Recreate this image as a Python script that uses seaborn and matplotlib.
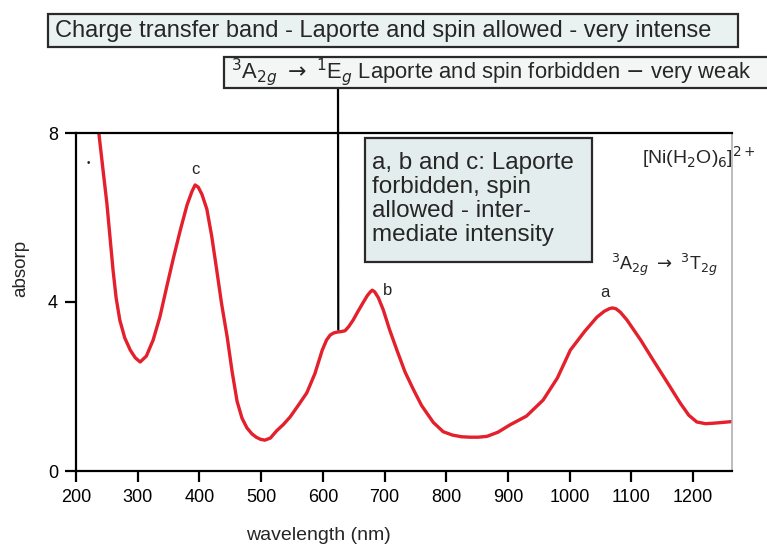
import matplotlib
matplotlib.use("Agg")
import matplotlib.pyplot as plt
import seaborn as sns
import pandas as pd
from matplotlib.patches import Rectangle

wavelength = [228, 237, 244, 250, 255, 260, 265, 271, 279, 288, 296, 304, 314, 325, 336, 347,
              358, 369, 380, 388, 393, 398, 404, 412, 420, 428, 436, 445, 453, 461, 469,
              477, 485, 492, 499, 506, 515, 525, 536, 547, 560, 574, 587, 599, 606, 612,
              618, 624, 630, 636, 642, 649, 657, 665, 672, 677, 680, 684, 690, 698, 708,
              720, 733, 746, 760, 779, 795, 810, 825, 839, 852, 866, 884, 903, 930, 957,
              980, 1001, 1024, 1044, 1056, 1064, 1069, 1075, 1082, 1093, 1115, 1135, 1158,
              1179, 1193, 1206, 1220, 1232, 1248, 1263]
absorbance = [8.6, 8.0, 7.1, 6.34, 5.55, 4.76, 4.10, 3.57, 3.15, 2.86, 2.68, 2.58, 2.72, 3.10,
              3.65, 4.36, 5.05, 5.70, 6.30, 6.62, 6.77, 6.72, 6.55, 6.20, 5.55, 4.76, 3.95,
              3.17, 2.35, 1.65, 1.25, 1.02, 0.88, 0.80, 0.75, 0.73, 0.78, 0.95, 1.10, 1.28,
              1.55, 1.85, 2.30, 2.86, 3.10, 3.22, 3.27, 3.29, 3.30, 3.32, 3.42, 3.57, 3.78,
              3.98, 4.15, 4.24, 4.28, 4.24, 4.10, 3.81, 3.35, 2.86, 2.35, 1.95, 1.55, 1.15,
              0.93, 0.85, 0.81, 0.80, 0.80, 0.82, 0.92, 1.09, 1.30, 1.68, 2.20, 2.86, 3.30,
              3.64, 3.78, 3.84, 3.86, 3.84, 3.76, 3.57, 3.10, 2.63, 2.10, 1.61, 1.32, 1.16,
              1.12, 1.13, 1.15, 1.17]

xticks = [200, 300, 400, 500, 600, 700, 800, 900, 1000, 1100, 1200]
yticks = [0, 4, 8]

df = pd.DataFrame({"wavelength": wavelength, "absorbance": absorbance})

sns.set_style("white")
plt.rcParams['font.family'] = ['Liberation Sans', 'DejaVu Sans']

W, H = 767, 547
fig = plt.figure(figsize=(W / 100, H / 100), dpi=100)
ax = fig.add_axes([76 / W, 1 - 471 / H, (732 - 76) / W, (471 - 133) / H])

sns.lineplot(data=df, x="wavelength", y="absorbance", ax=ax, color="#e3202c", lw=2.4)

ax.set_xlim(200, 1263)
ax.set_ylim(0, 8)
ax.set_xticks(xticks)
ax.set_yticks(yticks)
ax.tick_params(axis="both", direction="out", length=8, width=1.6, labelsize=13,
               left=True, bottom=True, colors="black", pad=5)
for s in ["left", "bottom", "top"]:
    ax.spines[s].set_color("black")
    ax.spines[s].set_linewidth(1.6)
ax.spines["right"].set_color("#b0b0b0")
ax.spines["right"].set_linewidth(1.2)
ax.set_xlabel("wavelength (nm)", fontsize=14)
ax.set_ylabel("absorp", fontsize=13.5)
ax.xaxis.set_label_coords(0.37, -0.165)
ax.yaxis.set_label_coords(-0.072, 0.6)

def fx(px):
    return px / W

def fy(py):
    return 1 - py / H

def box(x0, y0, x1, y1, fc):
    r = Rectangle((fx(x0), fy(y1)), fx(x1) - fx(x0), fy(y0) - fy(y1),
                  transform=fig.transFigure, facecolor=fc, edgecolor="#2a2a2a",
                  lw=1.6, zorder=3, clip_on=False)
    fig.add_artist(r)

# Box 1
box(48, 14, 738, 47, "#eaf1f1")
fig.text(fx(55), fy(31), "Charge transfer band - Laporte and spin allowed - very intense",
         fontsize=17, va="center", ha="left", zorder=4)

# Box 2
box(224, 57, 775, 88, "#f4f6f6")
fig.text(fx(231), fy(72), r"$^3$A$_{2g}$ $\rightarrow$ $^1$E$_g$ Laporte and spin forbidden $-$ very weak",
         fontsize=15.8, va="center", ha="left", zorder=4)

# Box 3
box(365, 138, 592, 262, "#e4eded")
fig.text(fx(372), fy(199), "a, b and c: Laporte\nforbidden, spin\nallowed - inter-\nmediate intensity",
         fontsize=17.5, va="center", ha="left", linespacing=1.12, zorder=4)

# connector line from box 2 to shoulder
ax.annotate("", xy=(625, 3.35), xycoords="data",
            xytext=(338, H - 88), textcoords="figure pixels",
            arrowprops=dict(arrowstyle="-", color="black", lw=1.6, shrinkA=0, shrinkB=0),
            annotation_clip=False)

# peak labels
ax.annotate("c", xy=(393, 6.77), xytext=(0, 6), textcoords="offset points",
            ha="center", va="bottom", fontsize=12)
ax.annotate("b", xy=(680, 4.28), xytext=(8, 0), textcoords="offset points",
            ha="left", va="center", fontsize=12)
ax.annotate("a", xy=(1069, 3.86), xytext=(-5, 6), textcoords="offset points",
            ha="center", va="bottom", fontsize=12)
ax.text(fx(88), fy(163), "\u2022", transform=fig.transFigure, fontsize=7, ha="center", va="center")

ax.text(fx(611), fy(265), r"$^3$A$_{2g}$ $\rightarrow$ $^3$T$_{2g}$", transform=fig.transFigure,
        fontsize=13, ha="left", va="center")
ax.text(fx(642), fy(157), r"[Ni(H$_2$O)$_6$]$^{2+}$", transform=fig.transFigure,
        fontsize=14, ha="left", va="center")

fig.savefig("out.png", dpi=100)
